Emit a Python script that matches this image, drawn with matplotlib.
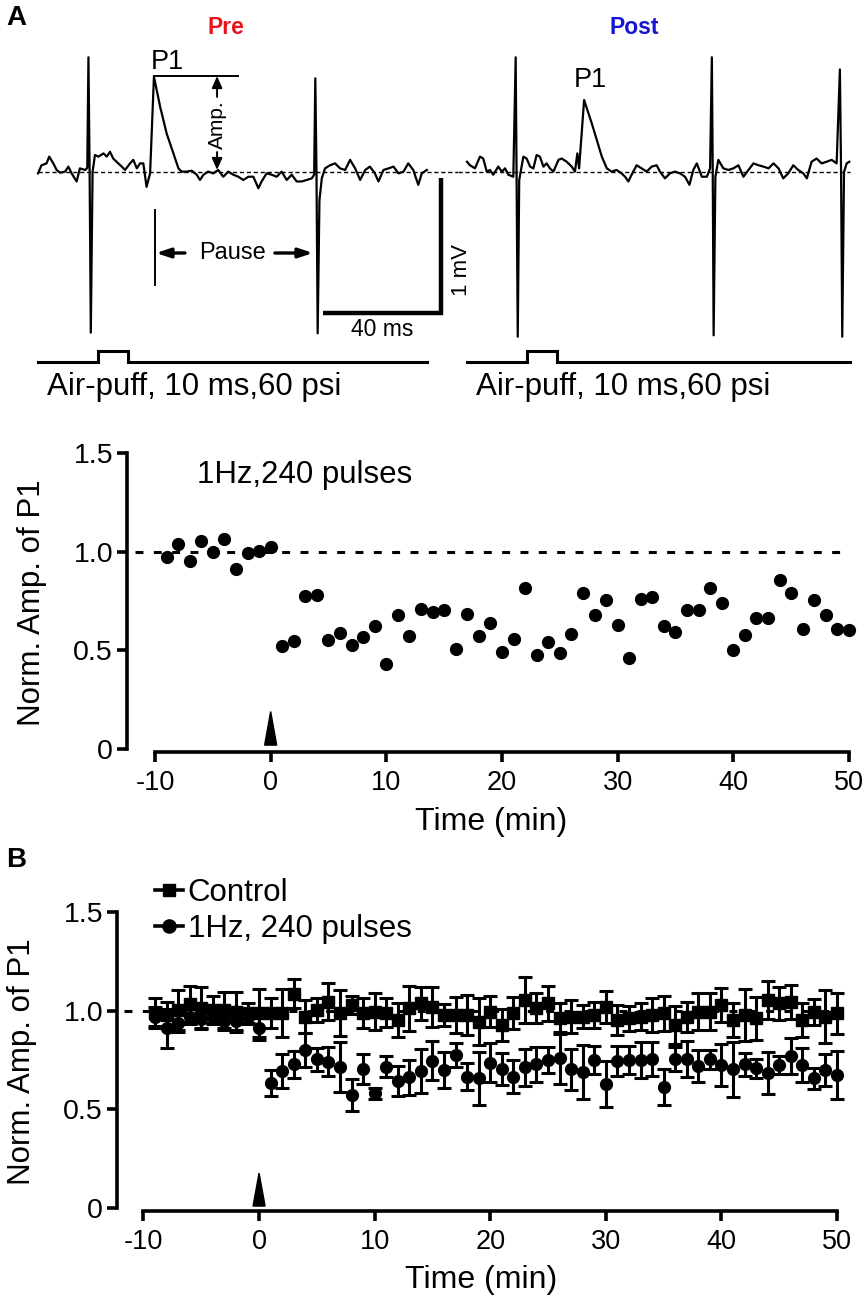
import matplotlib
matplotlib.use('Agg')
import matplotlib.pyplot as plt
from matplotlib.lines import Line2D
from matplotlib.patches import Polygon

plt.rcParams['font.family'] = ['Liberation Sans', 'DejaVu Sans']
plt.rcParams['axes.unicode_minus'] = False

# ---------------- data ----------------
# Panel A traces (time in ms, voltage in mV relative to baseline)
pre_t = [0, 1.2, 2.9, 3.8, 5.2, 6.3, 7.5, 9.2, 10.3, 11.4, 13.1, 14.2, 16.0, 16.7, 17.1, 17.5, 17.9, 18.5,
         19.3, 20.5, 22.2, 23.3, 24.4, 25.5, 27.2, 28.4, 29.5, 31.2, 32.3, 33.5, 34.6, 35.7, 36.8, 38.0,
         39.3, 41.4, 43.6, 45.9, 47.6, 48.7, 50.4, 52.1, 53.8, 54.9, 56.1, 57.7, 59.4, 61.1, 62.8, 64.5,
         66.2, 67.9, 69.6, 71.3, 73.0, 74.7, 75.8, 77.5, 79.2, 80.9, 82.6, 84.3, 86.0, 87.7, 89.4, 91.1,
         92.8, 93.6, 94.0, 94.4, 94.8, 95.4, 96.2, 97.3, 99.0, 100.7, 102.4, 104.1, 105.8, 107.5, 109.2,
         110.9, 112.5, 114.2, 115.4, 117.1, 118.8, 120.5, 122.2, 123.9, 125.5, 127.2, 128.9, 130.1, 131.8]
pre_v = [-0.01, 0.05, 0.064, 0.114, 0.064, 0.015, -0.005, 0.003, 0.04, -0.01, -0.07, 0.027, 0.015, 0.03,
         0.85, 0.0, -1.19, 0.0, 0.126, 0.114, 0.138, 0.114, 0.15, 0.10, 0.064, 0.04, 0.015, 0.064, 0.09,
         0.027, 0.064, 0.064, -0.11, -0.01, 0.706, 0.484, 0.286, 0.138, 0.027, 0.003, 0.003, 0.01, -0.02,
         -0.059, -0.02, 0.003, -0.01, 0.015, -0.035, 0.003, -0.02, -0.035, -0.059, -0.035, -0.035, -0.12,
         -0.07, -0.01, -0.02, -0.035, 0.003, -0.059, -0.02, -0.07, -0.07, -0.059, -0.047, -0.02, 0.694,
         0.0, -1.195, -0.21, -0.047, 0.027, 0.05, 0.064, 0.027, 0.015, 0.09, 0.027, -0.059, 0.015, 0.04,
         -0.01, -0.07, 0.015, 0.027, 0.04, -0.01, 0.003, 0.064, 0.015, -0.095, -0.01, 0.015]
post_t = [0, 1.0, 2.7, 4.4, 5.5, 6.7, 7.8, 8.9, 10.6, 11.8, 12.9, 14.0, 15.7, 16.5, 16.8, 17.2, 17.7,
          19.1, 20.2, 21.4, 22.5, 23.6, 24.7, 25.9, 27.0, 28.1, 29.3, 31.0, 32.1, 33.8, 35.5, 36.6, 37.4,
          38.0, 39.7, 40.8, 42.3, 44.0, 45.7, 47.4, 49.0, 50.7, 52.4, 53.6, 54.7, 55.8, 57.5, 59.2, 60.9,
          62.6, 64.3, 65.4, 67.1, 68.8, 70.5, 72.2, 73.9, 75.4, 76.7, 77.9, 79.6, 81.3, 82.4, 83.0, 83.3,
          83.6, 84.2, 85.2, 86.9, 88.6, 90.3, 92.0, 93.7, 95.4, 97.1, 98.8, 100.5, 102.2, 103.9, 105.6,
          107.2, 108.9, 110.6, 112.3, 114.0, 115.2, 116.8, 118.5, 120.2, 121.9, 123.6, 125.3, 126.4,
          126.8, 127.2, 127.8, 128.7, 129.6]
post_v = [0.076, 0.05, 0.027, 0.114, 0.10, 0.003, 0.015, -0.02, 0.04, 0.003, 0.027, -0.02, -0.035, 0.85,
          0.0, -1.22, -0.06, 0.114, 0.10, 0.04, 0.027, 0.126, 0.114, 0.04, 0.064, 0.027, 0.003, 0.09, 0.10,
          0.076, 0.04, 0.003, 0.138, 0.027, 0.533, 0.46, 0.36, 0.237, 0.114, 0.027, 0.003, 0.015, -0.01,
          -0.035, -0.07, -0.02, 0.05, 0.027, 0.003, 0.04, 0.05, 0.003, -0.047, -0.01, 0.003, -0.01, -0.035,
          -0.095, 0.015, 0.064, -0.035, -0.035, 0.027, 0.85, 0.0, -1.21, -0.035, 0.09, 0.027, 0.015, 0.027,
          0.05, -0.035, 0.015, 0.064, 0.05, 0.04, 0.027, 0.064, 0.027, -0.047, -0.01, 0.05, 0.015, -0.01,
          -0.047, 0.076, 0.10, 0.064, 0.076, 0.09, 0.064, 0.76, 0.0, -1.22, 0.0, 0.064, 0.076]
pre_end, post_end = 131.8, 129.7          # ms, end of each recording
puff_on, puff_off = 20.3, 30.5            # ms, 10 ms air-puff
p1_onset, p1_peak_t, p1_peak_v = 39.7, 39.3, 0.711
next_spike_t = 93.8
scale_ms, scale_mv = 40, 1

# Panel A bottom: normalised P1 amplitude, single cell
a_time = list(range(-9, 1)) + list(range(1, 51))
a_amp = [0.974, 1.038, 0.951, 1.052, 0.996, 1.064, 0.914, 0.991, 1.003, 1.024,
         0.521, 0.548, 0.776, 0.783, 0.550, 0.590, 0.526, 0.566, 0.624, 0.431,
         0.677, 0.571, 0.708, 0.696, 0.707, 0.509, 0.686, 0.572, 0.638, 0.491,
         0.560, 0.815, 0.474, 0.540, 0.486, 0.583, 0.793, 0.681, 0.757, 0.631,
         0.462, 0.759, 0.770, 0.624, 0.591, 0.702, 0.702, 0.817, 0.738, 0.500,
         0.576, 0.662, 0.662, 0.855, 0.790, 0.607, 0.753, 0.677, 0.609, 0.602]

# Panel B: group means +- SEM
b_time = list(range(-9, 51))
ctrl_mean = [0.987, 0.978, 1.004, 1.034, 1.012, 1.004, 1.004, 0.995, 0.990, 0.987,
             0.990, 0.990, 1.085, 0.970, 1.004, 1.046, 0.987, 1.029, 0.990, 0.995,
             0.990, 0.953, 1.012, 1.037, 1.020, 0.978, 0.978, 0.978,
             0.944, 0.995, 0.928, 0.987, 1.054, 1.012, 1.037, 0.961, 0.970, 0.970,
             0.978, 1.020, 0.953, 0.961, 0.970, 0.978, 0.987, 0.928, 0.970, 0.995,
             0.995, 1.029, 0.953, 0.978, 0.961, 1.054, 1.037, 1.046, 0.953, 0.995,
             0.970, 0.987]
ctrl_sem = [0.076, 0.068, 0.101, 0.093, 0.106, 0.068, 0.093, 0.101, 0.051, 0.122,
            0.076, 0.122, 0.073, 0.082, 0.059, 0.095, 0.117, 0.044, 0.076, 0.093,
            0.072, 0.084, 0.114, 0.083, 0.101, 0.055, 0.093, 0.101,
            0.118, 0.079, 0.080, 0.080, 0.117, 0.076, 0.090, 0.080, 0.083, 0.059,
            0.065, 0.080, 0.074, 0.062, 0.069, 0.086, 0.088, 0.097, 0.076, 0.093,
            0.095, 0.086, 0.088, 0.131, 0.108, 0.095, 0.084, 0.086, 0.084, 0.066,
            0.133, 0.103]
hz_mean = [0.97, 0.91, 0.94, 0.97, 0.96, 0.97, 0.95, 0.95, 0.97, 0.91,
           0.632, 0.694, 0.728, 0.801, 0.754, 0.742, 0.713, 0.573, 0.705, 0.581,
           0.716, 0.645, 0.662, 0.694, 0.747, 0.699, 0.775, 0.666, 0.657, 0.737,
           0.705, 0.666, 0.713, 0.728, 0.750, 0.762, 0.703, 0.688, 0.750, 0.628,
           0.745, 0.750, 0.750, 0.754, 0.612, 0.754, 0.755, 0.720, 0.754, 0.725,
           0.703, 0.728, 0.708, 0.683, 0.725, 0.772, 0.725, 0.657, 0.699, 0.674]
hz_sem = [0.05, 0.10, 0.05, 0.04, 0.05, 0.04, 0.05, 0.05, 0.04, 0.06,
          0.066, 0.084, 0.068, 0.088, 0.059, 0.074, 0.127, 0.082, 0.074, 0.028,
          0.054, 0.076, 0.089, 0.110, 0.099, 0.093, 0.059, 0.068, 0.133, 0.097,
          0.080, 0.083, 0.093, 0.087, 0.066, 0.131, 0.103, 0.138, 0.072, 0.117,
          0.078, 0.073, 0.090, 0.087, 0.092, 0.062, 0.092, 0.083, 0.049, 0.108,
          0.139, 0.059, 0.049, 0.107, 0.046, 0.092, 0.084, 0.053, 0.083, 0.123]

x_ticks = [-10, 0, 10, 20, 30, 40, 50]
y_ticks = [0, 0.5, 1.0, 1.5]
y_ticklabels = ['0', '0.5', '1.0', '1.5']
stim_time = 0

# ---------------- figure ----------------
W, H = 868, 1300
fig = plt.figure(figsize=(W / 100, H / 100), dpi=100)


def fa(l, t, r, b):
    return [l / W, 1 - b / H, (r - l) / W, (b - t) / H]


K = 'black'
ax_pre = fig.add_axes(fa(0, 40, 458, 400))
ax_pre.set_xlim(-12.88, 142.37)
ax_pre.set_ylim(-1.689, 0.978)
ax_post = fig.add_axes(fa(458, 40, 868, 400))
ax_post.set_xlim(-3.05, 135.93)
ax_post.set_ylim(-1.689, 0.978)
for ax in (ax_pre, ax_post):
    ax.axis('off')

ax_pre.plot(pre_t, pre_v, color=K, lw=1.6, zorder=3)
ax_post.plot(post_t, post_v, color=K, lw=1.6, zorder=3)
ax_pre.plot([0, 142.37], [0, 0], color=K, lw=1.0, ls=(0, (3, 2)), zorder=2)
ax_post.plot([-3.05, post_end], [0, 0], color=K, lw=1.0, ls=(0, (3, 2)), zorder=2)

# air-puff stimulus traces
lo, hi = -1.407, -1.326
for ax, end in ((ax_pre, pre_end), (ax_post, post_end)):
    ax.plot([0, puff_on, puff_on, puff_off, puff_off, end], [lo, lo, hi, hi, lo, lo],
            color=K, lw=2.2, solid_joinstyle='miter')
    ax.text(3.0, -1.593, 'Air-puff, 10 ms,60 psi', fontsize=22.5, ha='left', va='center')

# P1 / amplitude annotation (pre)
ax_pre.text(43.7, 0.815, 'P1', fontsize=19.5, ha='center', va='center')
ax_pre.plot([p1_peak_t, 67.8], [p1_peak_v, p1_peak_v], color=K, lw=1.4)
arr = dict(arrowstyle='-|>,head_length=0.5,head_width=0.22', color=K, lw=1.4,
           shrinkA=0, shrinkB=0, mutation_scale=14)
ax_pre.annotate('', xy=(60.7, p1_peak_v), xytext=(60.7, 0.556), arrowprops=arr)
ax_pre.annotate('', xy=(60.7, 0.015), xytext=(60.7, 0.148), arrowprops=arr)
ax_pre.text(60.7, 0.348, 'Amp.', rotation=90, fontsize=15, ha='center', va='center')

# pause annotation
ax_pre.plot([p1_onset, p1_onset], [-0.281, -0.837], color=K, lw=1.4)
arr2 = dict(arrowstyle='-|>,head_length=0.6,head_width=0.2', color=K, lw=2.4,
            shrinkA=0, shrinkB=0, mutation_scale=14)
ax_pre.annotate('', xy=(p1_onset + 0.3, -0.6), xytext=(49.8, -0.6), arrowprops=arr2)
ax_pre.annotate('', xy=(next_spike_t - 0.6, -0.6), xytext=(80.3, -0.6), arrowprops=arr2)
ax_pre.text(66.1, -0.6, 'Pause', fontsize=17, ha='center', va='center')

# scale bar
sx, sy = 136.6, -1.044
ax_pre.plot([sx - scale_ms, sx, sx], [sy, sy, sy + scale_mv], color=K, lw=3.2,
            solid_joinstyle='miter', solid_capstyle='butt')
ax_pre.text(sx - scale_ms / 2, -1.17, '40 ms', fontsize=16.5, ha='center', va='center')
ax_pre.text(143.4, -0.726, '1 mV', fontsize=16, rotation=90, ha='center', va='center')

ax_post.text(41.7, 0.681, 'P1', fontsize=19.5, ha='center', va='center')

fig.text(226 / W, 1 - 27 / H, 'Pre', color='#e8141c', fontsize=16.5, fontweight='bold',
         ha='center', va='center')
fig.text(634 / W, 1 - 27 / H, 'Post', color='#1414d6', fontsize=16.5, fontweight='bold',
         ha='center', va='center')
fig.text(16 / W, 1 - 18 / H, 'A', fontsize=20, fontweight='bold', ha='center', va='center')
fig.text(16 / W, 1 - 860 / H, 'B', fontsize=20, fontweight='bold', ha='center', va='center')


def style_axes(ax, xlim, ylab_x, xlab_y):
    ax.set_xlim(*xlim)
    ax.set_ylim(-0.015, 1.5)
    for s in ('top', 'right'):
        ax.spines[s].set_visible(False)
    for s in ('left', 'bottom'):
        ax.spines[s].set_linewidth(2.6)
    ax.spines['left'].set_bounds(0, 1.5)
    ax.spines['bottom'].set_bounds(-10, 50)
    ax.set_xticks(x_ticks)
    ax.set_yticks(y_ticks)
    ax.set_yticklabels(y_ticklabels)
    ax.tick_params(axis='both', direction='out', length=7, width=2.6, pad=3)
    ax.tick_params(axis='y', labelsize=20.5)
    ax.tick_params(axis='x', labelsize=19.5, pad=6)
    ax.set_ylabel('Norm. Amp. of P1', fontsize=22.5)
    ax.yaxis.set_label_coords(ylab_x, 0.5)
    ax.yaxis.label.set_va('center')
    ax.set_xlabel('Time (min)', fontsize=23)
    ax.xaxis.set_label_coords(0.5, xlab_y)
    ax.xaxis.label.set_va('center')


# Panel A bottom
ax2 = fig.add_axes(fa(127, 453, 855, 752))
style_axes(ax2, (-12.42, 50.52), -0.13, -0.234)
ax2.plot([-11.7, 50], [1, 1], color=K, lw=2.2, ls=(0, (2.6, 3.4)), zorder=1)
ax2.plot(a_time, a_amp, 'o', color=K, ms=8.5, clip_on=False, zorder=3)
ax2.add_patch(Polygon([(stim_time - 0.52, 0.02), (stim_time + 0.52, 0.02), (stim_time, 0.19)],
                      closed=True, color=K, clip_on=False))
ax2.text(-6.37, 1.39, '1Hz,240 pulses', fontsize=22.5, ha='left', va='center')

# Panel B
ax3 = fig.add_axes(fa(117, 912, 845, 1211))
style_axes(ax3, (-12.29, 50.69), -0.13, -0.232)
ax3.plot([-11.7, 50], [1, 1], color=K, lw=2.2, ls=(0, (2.6, 3.4)), zorder=1)
eb = dict(color=K, ecolor=K, elinewidth=2.2, capsize=4.8, capthick=2.2, ls='none', clip_on=False)
ax3.errorbar(b_time, hz_mean, yerr=hz_sem, fmt='o', ms=8.5, zorder=3, **eb)
ax3.errorbar(b_time, ctrl_mean, yerr=ctrl_sem, fmt='s', ms=8.5, zorder=4, **eb)
ax3.add_patch(Polygon([(stim_time - 0.52, 0.01), (stim_time + 0.52, 0.01), (stim_time, 0.177)],
                      closed=True, color=K, clip_on=False))
handles = [Line2D([], [], color=K, marker='s', ms=8.5, lw=2.6),
           Line2D([], [], color=K, marker='o', ms=9.5, lw=2.6)]
ax3.legend(handles, ['Control', '1Hz, 240 pulses'], loc='upper left', frameon=False,
           bbox_to_anchor=(0.052, 1.115), fontsize=22.5, handlelength=0.9, handletextpad=0.15,
           labelspacing=0.2, borderpad=0, borderaxespad=0)

fig.savefig('out.png', dpi=100)
